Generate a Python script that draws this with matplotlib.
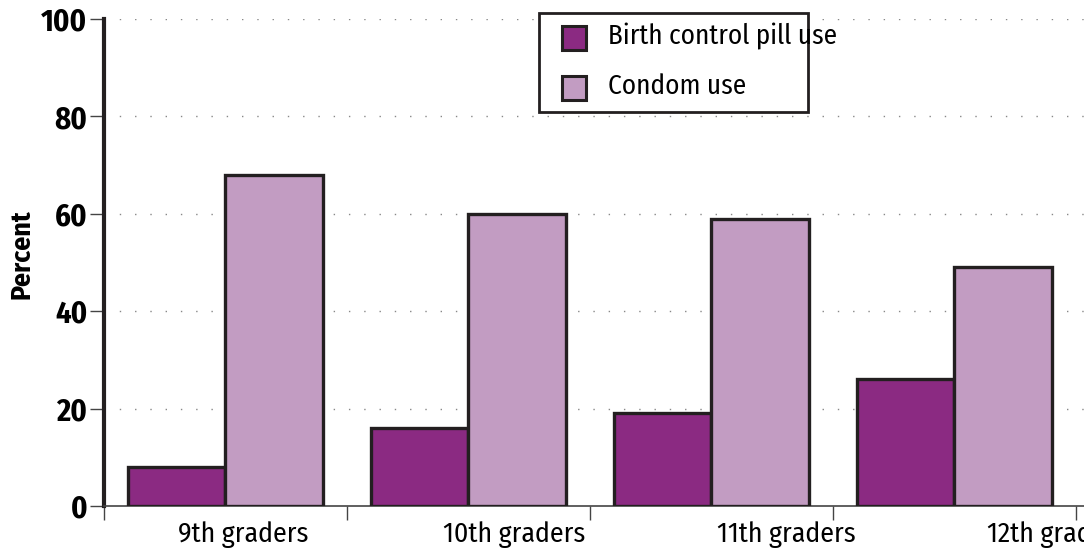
import matplotlib

matplotlib.use("Agg")
import matplotlib.pyplot as plt
from matplotlib.patches import Rectangle

grades = ["9th graders", "10th graders", "11th graders", "12th graders"]
pill_use = [8, 16, 19, 26]
condom_use = [68, 60, 59, 49]
y_ticks = [0, 20, 40, 60, 80, 100]
series_names = ["Birth control pill use", "Condom use"]

PILL_COLOR = "#8b2a82"
CONDOM_COLOR = "#c29cc2"
EDGE = "#231f20"

plt.rcParams["font.family"] = ["Fira Sans Condensed", "Roboto Condensed", "DejaVu Sans"]

W, H = 1084, 556
fig = plt.figure(figsize=(W / 100, H / 100), dpi=100)
ax = fig.add_axes([104 / W, 50 / H, 980 / W, 487 / H])

x = range(len(grades))
width = 0.4
ax.bar([i + 0.5 - width / 2 for i in x], pill_use, width=width, color=PILL_COLOR,
       edgecolor=EDGE, linewidth=2.4, zorder=3)
ax.bar([i + 0.5 + width / 2 for i in x], condom_use, width=width, color=CONDOM_COLOR,
       edgecolor=EDGE, linewidth=2.4, zorder=3)

ax.set_xlim(0, 4.033)
ax.set_ylim(0, 100)

for spine in ("top", "right"):
    ax.spines[spine].set_visible(False)
ax.spines["left"].set_linewidth(3)
ax.spines["left"].set_color(EDGE)
ax.spines["bottom"].set_linewidth(1.2)
ax.spines["bottom"].set_color("#444444")

ax.set_yticks(y_ticks)
ax.set_yticklabels([str(v) for v in y_ticks], fontsize=22, fontweight="bold")
ax.tick_params(axis="y", length=10, width=1, color="#444444", pad=2)

# group boundaries as ticks, labels placed separately
ax.set_xticks([0, 1, 2, 3, 4])
ax.set_xticklabels([])
ax.tick_params(axis="x", length=10, width=1, color="#444444", direction="out")
for i, name in enumerate(grades):
    ax.text(0.572 + i * 1.117, -3.2, name, ha="center", va="top", fontsize=20,
            clip_on=False)

for v in y_ticks[1:]:
    ax.axhline(v, color="#888888", linewidth=1, linestyle=(0, (1, 10)), zorder=1)

fig.text(22 / W, 1 - 254 / H, "Percent", rotation=90, ha="center", va="center",
         fontsize=20, fontweight="bold")

# legend drawn by hand: the label runs past the frame as in the original
frame = Rectangle((539 / W, 1 - 112 / H), 269 / W, 99 / H, transform=fig.transFigure,
                  facecolor="white", edgecolor=EDGE, linewidth=2, zorder=5)
fig.add_artist(frame)
for k, (name, color) in enumerate(zip(series_names, [PILL_COLOR, CONDOM_COLOR])):
    yc = 38 + k * 50
    sw = Rectangle((562 / W, 1 - (yc + 12) / H), 24 / W, 24 / H, transform=fig.transFigure,
                   facecolor=color, edgecolor=EDGE, linewidth=2.2, zorder=6)
    fig.add_artist(sw)
    fig.text(608 / W, 1 - (yc - 2) / H, name, ha="left", va="center", fontsize=19.5,
             zorder=7)

fig.savefig("out.png", dpi=100)
